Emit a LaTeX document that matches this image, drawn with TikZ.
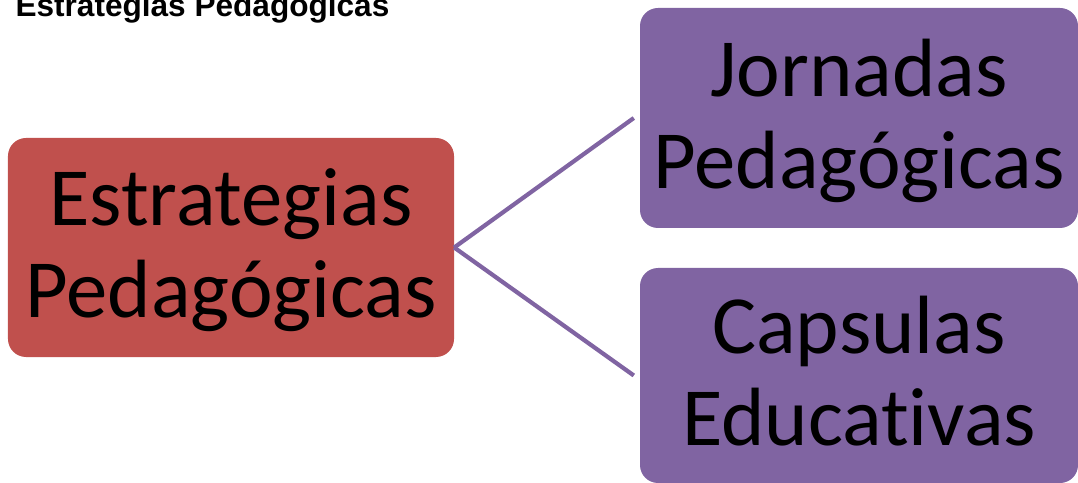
\documentclass[tikz,border=0pt]{standalone}
\usepackage{fontspec}
\setmainfont{Liberation Sans}
\newfontfamily\carlito[Ligatures=NoCommon]{Carlito}
\definecolor{estrojo}{HTML}{C0504D}
\definecolor{estmorado}{HTML}{8064A2}
\newcommand{\cajafont}{\carlito\fontsize{83}{92}\selectfont}
\tikzset{
	caja/.style={rounded corners=18bp,inner sep=0pt,align=center,text depth=9bp,font=\cajafont},
	enlace/.style={draw=estmorado,line width=4.2bp}
}

\begin{document}
\begin{tikzpicture}[x=1bp,y=-1bp]
	\useasboundingbox (0,0) rectangle (1078,483);
	\node [anchor=base west,font=\bfseries\fontsize{31.7}{38}\selectfont] (titulo) at (12,17) {Estrategias Pedagógicas};
	\node [caja,fill=estrojo,minimum width=446bp,minimum height=219bp] (estrategias) at (231,247.5) {Estrategias\\Pedagógicas};
	\node [caja,fill=estmorado,minimum width=438bp,minimum height=220bp] (jornadas) at (859,118) {Jornadas\\Pedagógicas};
	\node [caja,fill=estmorado,minimum width=438bp,minimum height=215bp] (capsulas) at (859,375.5) {Capsulas\\Educativas};
	\foreach \destino in {jornadas,capsulas}
		{\draw [enlace] (estrategias.east) -- ([xshift=-6bp]\destino.west);
			};
\end{tikzpicture}
\end{document}
